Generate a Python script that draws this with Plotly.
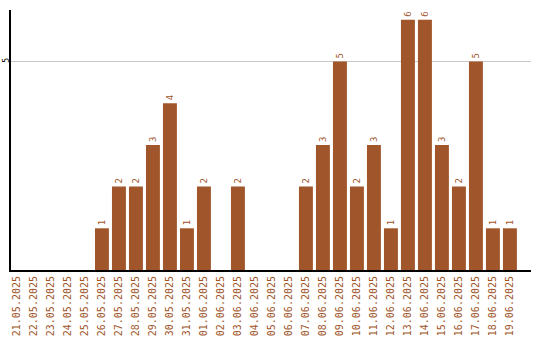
import plotly.graph_objects as go

dates = ["21.05.2025","22.05.2025","23.05.2025","24.05.2025","25.05.2025","26.05.2025",
         "27.05.2025","28.05.2025","29.05.2025","30.05.2025","31.05.2025","01.06.2025",
         "02.06.2025","03.06.2025","04.06.2025","05.06.2025","06.06.2025","07.06.2025",
         "08.06.2025","09.06.2025","10.06.2025","11.06.2025","12.06.2025","13.06.2025",
         "14.06.2025","15.06.2025","16.06.2025","17.06.2025","18.06.2025","19.06.2025"]
values = [0,0,0,0,0,1,2,2,3,4,1,2,0,2,0,0,0,2,3,5,2,3,1,6,6,3,2,5,1,1]

color = "#A0552A"
labels = [str(v) if v else "" for v in values]

fig = go.Figure(go.Bar(
    x=list(range(len(dates))), y=values, marker_color=color, marker_line_width=0,
    text=labels, textposition="outside", textangle=-90, cliponaxis=False,
    textfont=dict(family="DejaVu Sans Mono", size=9, color=color),
))
fig.update_layout(
    width=540, height=340, margin=dict(l=11, r=9, t=10, b=70),
    paper_bgcolor="white", plot_bgcolor="white", showlegend=False, bargap=0.18,
    xaxis=dict(range=[-0.35, 30.24], tickmode="array", tickvals=list(range(len(dates))),
               ticktext=dates, tickangle=-90, showgrid=False, zeroline=False,
               showline=True, linecolor="black", linewidth=2, ticks="", automargin=False,
               tickfont=dict(family="DejaVu Sans Mono", size=10, color=color)),
    yaxis=dict(range=[0, 6.235], tickvals=[5], ticktext=["5"], tickangle=-90,
               showgrid=True, gridcolor="#c8c8c8", gridwidth=1, zeroline=False,
               showline=True, linecolor="black", linewidth=2, ticks="", automargin=False,
               ticklabelstandoff=-3,
               tickfont=dict(family="DejaVu Sans Mono", size=8, color="black")),
)
fig.write_html("out.html")
